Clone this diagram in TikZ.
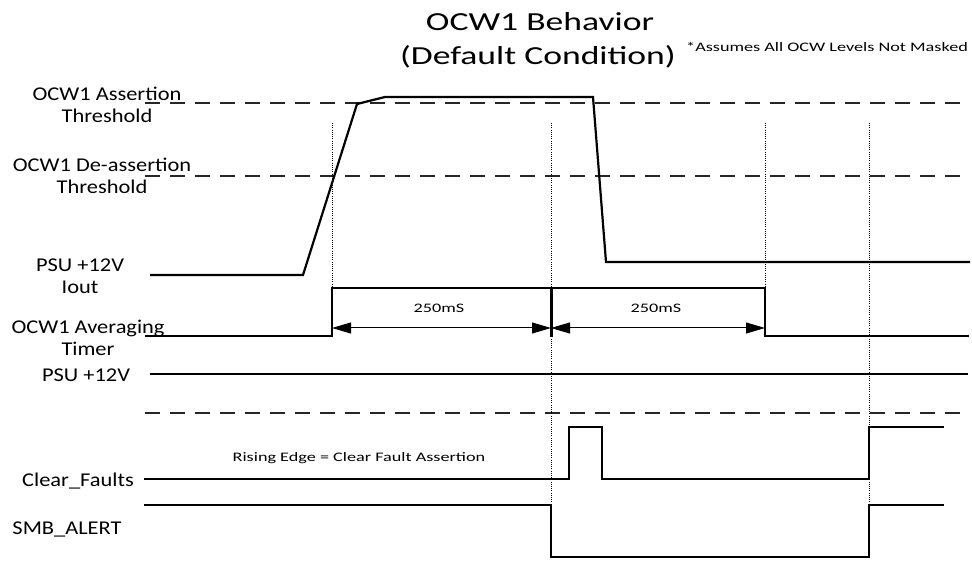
\documentclass[tikz,border=0pt]{standalone}
\usepackage{fontspec}
\setmainfont{Carlito}[FakeStretch=1.15]
\newfontfamily\ttlfont{Carlito}[FakeStretch=1.37]
\newfontfamily\smfont{Carlito}[FakeStretch=1.4]
\usepackage{tikz}
\usetikzlibrary{arrows.meta}
\tikzset{
  sigline/.style={line width=2.2pt,black,line join=miter},
  thrline/.style={line width=1.3pt,black!85,dash pattern=on 15pt off 10pt},
  markline/.style={line width=0.9pt,black,dash pattern=on 1pt off 1.2pt},
  splitline/.style={line width=3pt,black},
  spanarrow/.style={{Triangle[length=19pt,width=11pt]}-{Triangle[length=19pt,width=11pt]},line width=1pt},
  sigtxt/.style={align=center,inner sep=0pt,font=\fontsize{19.5}{22}\selectfont},
  smalltxt/.style={inner sep=0pt,font=\smfont\fontsize{13}{15}\selectfont},
  ttltxt/.style={inner sep=0pt,font=\ttlfont\fontsize{26}{34}\selectfont},
}

\begin{document}
\begin{tikzpicture}[x=1pt,y=-1pt]
  \useasboundingbox (0,0) rectangle (972,569);
  % title
  \node[ttltxt,anchor=base] (ttlA) at (540,31) {OCW1 Behavior};
  \node[ttltxt,anchor=base] (ttlB) at (538,65) {(Default Condition)};
  \node[smalltxt,anchor=base west] (note) at (686,52) {*Assumes All OCW Levels Not Masked};
  % signal names
  \node[sigtxt] (lAsrt) at (107,105) {OCW1 Assertion\\Threshold};
  \node[sigtxt] (lDsrt) at (102,176) {OCW1 De-assertion\\Threshold};
  \node[sigtxt] (lIout) at (80,276) {PSU +12V\\Iout};
  \node[sigtxt] (lTmr) at (88,338) {OCW1 Averaging\\Timer};
  \node[sigtxt] (lPsu) at (86,375) {PSU +12V};
  \node[sigtxt,anchor=base] (lClr) at (78,486) {Clear\_Faults};
  \node[sigtxt,anchor=base] (lSmb) at (67,534) {SMB\_ALERT};
  % thresholds
  \draw[thrline] (145,103) -- (961,103);
  \draw[thrline] (145,176) -- (961,176);
  \draw[thrline] (145,413) -- (961,413);
  % time markers
  \draw[markline] (332,123) -- (332,288);
  \draw[markline] (551,123) -- (551,505);
  \draw[markline] (765,123) -- (765,288);
  \draw[markline] (869,123) -- (869,505);
  % Iout
  \draw[sigline] (150,275) -- (303,275) -- (357,104) -- (385,97) -- (593,97)
    -- (606,262) -- (970,262);
  % averaging timer
  \draw[sigline] (145,336) -- (332,336) -- (332,288) -- (765,288) -- (765,336)
    -- (969,336);
  \draw[splitline] (551,288) -- (551,337);
  \coordinate (sp1) at (332,328);
  \coordinate (sp2) at (551,328);
  \coordinate (sp3) at (765,328);
  \draw[spanarrow] (sp1) -- (sp2);
  \draw[spanarrow] (sp2) -- (sp3);
  \node[smalltxt,anchor=base] (dur1) at (439,313) {250mS};
  \node[smalltxt,anchor=base] (dur2) at (656,313) {250mS};
  % PSU +12V
  \draw[sigline] (150,374) -- (968,374);
  % Clear_Faults
  \node[smalltxt,anchor=base] (edge) at (359,461) {Rising Edge = Clear Fault Assertion};
  \draw[sigline] (144,479) -- (569,479) -- (569,427) -- (602,427) -- (602,479)
    -- (869,479) -- (869,427) -- (944,427);
  % SMB_ALERT
  \draw[sigline] (144,505) -- (551,505) -- (551,557) -- (869,557) -- (869,505)
    -- (944,505);
\end{tikzpicture}
\end{document}
